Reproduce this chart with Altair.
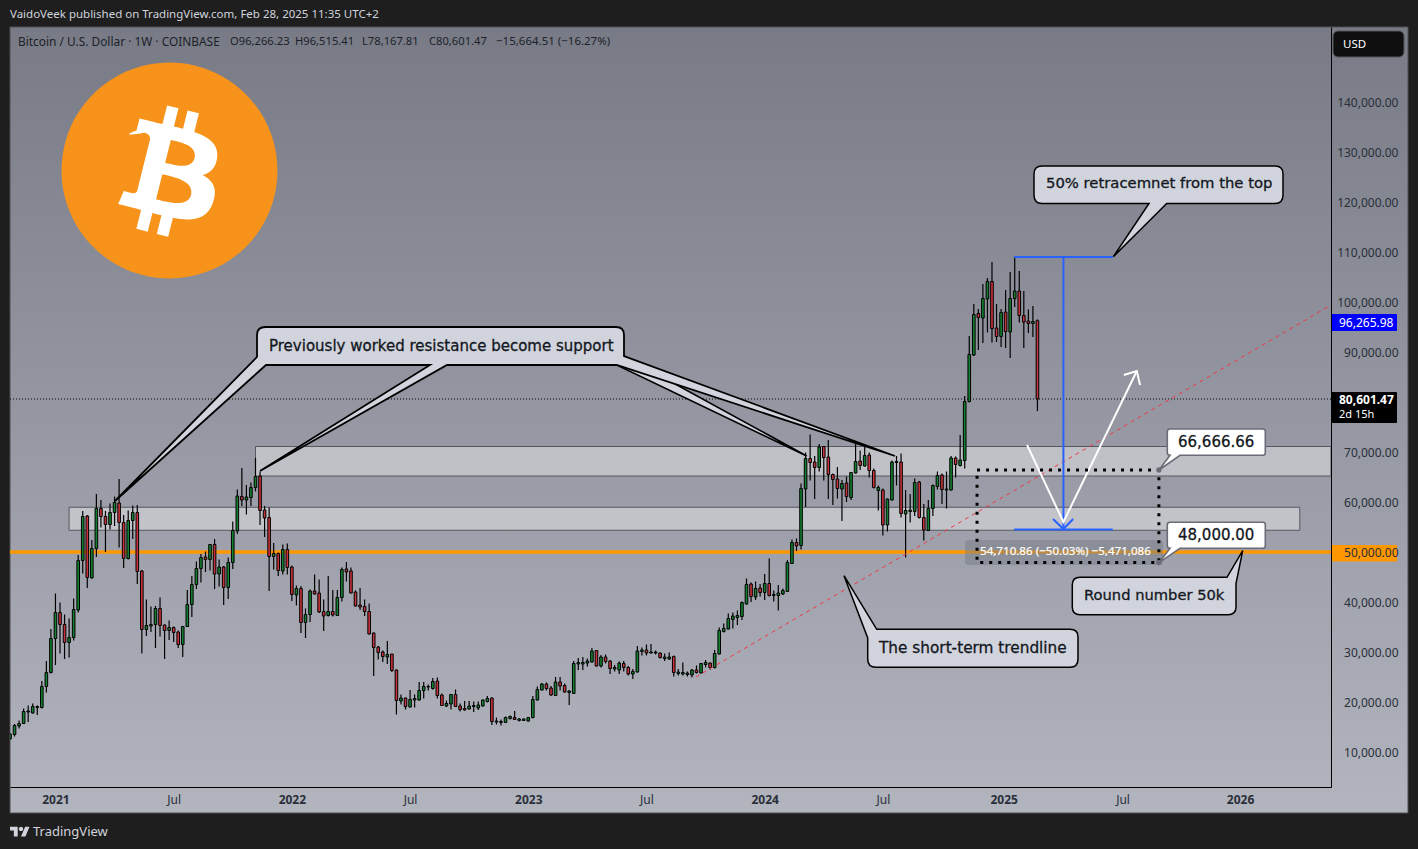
import altair as alt
import pandas as pd

# ---------- weekly candles, in thousands of USD ----------
opens = [12.6,13.5,15.2,15.7,18.0,17.8,19.1,18.9,23.1,25.9,
32.7,37.9,35.5,31.9,32.9,38.4,48.3,57.2,44.8,50.7,
58.7,57.1,55.5,57.9,59.8,55.9,48.7,56.3,57.9,46.2,
34.5,35.2,35.5,38.7,35.4,34.3,34.9,34.0,31.5,35.1,
39.5,43.5,46.7,49.0,48.5,51.5,45.6,47.0,42.9,47.9,
54.2,61.1,60.4,60.9,62.9,65.2,58.4,56.9,49.1,49.7,
46.2,50.5,47.0,41.4,42.7,35.9,37.5,42.2,41.8,38.1,
37.3,38.1,37.3,40.9,46.6,46.2,42.0,39.4,39.1,38.1,
33.8,31.0,30.0,29.0,29.6,26.4,
20.2,20.8,19.0,20.4,20.4,22.3,23.0,22.7,24.2,21.4,
19.2,19.6,21.5,19.2,18.7,18.6,19.1,18.8,19.2,20.1,
20.8,16.0,15.9,15.9,16.7,16.9,16.3,16.3,16.2,16.9,
20.4,22.4,23.6,22.8,21.3,24.0,23.3,21.9,21.7,27.6,
27.6,27.8,28.0,30.3,27.2,29.0,28.2,26.6,26.4,27.7,
26.9,25.6,26.0,30.1,30.4,29.8,29.8,29.8,28.7,28.6,
29.1,25.7,25.6,25.5,25.4,26.4,25.8,27.5,27.8,26.9,
29.6,34.1,34.6,36.5,36.9,37.1,39.6,43.6,41.0,42.8,
41.9,43.7,41.3,41.3,41.6,42.1,47.7,51.9,51.3,62.6,
68.7,68.0,66.9,71.1,69.0,65.5,64.6,62.6,63.8,60.9,
65.8,68.2,67.2,69.4,66.3,62.3,62.4,55.4,60.4,67.9,
68.0,57.6,58.1,58.1,64.0,56.9,54.3,58.7,63.1,65.4,
62.4,62.4,68.8,67.3,68.3,80.1,89.4,97.7,96.8,100.6,
104.1,94.8,93.1,98.0,94.0,100.7,102.2,97.3,96.2,95.7,96.27]

highs = [13.7,15.6,16.3,18.7,19.3,19.7,19.3,24.2,28.2,34.6,
41.7,39.9,37.5,36.7,40.7,49.4,58.2,57.4,52.4,61.6,
60.4,58.2,59.7,61.1,64.6,57.4,58.3,59.3,59.4,46.4,
40.5,39.1,39.2,40.9,35.5,36.3,35.1,34.3,35.2,42.4,
45.2,48.1,49.6,50.1,51.6,52.6,48.5,47.2,48.9,56.1,
62.5,66.8,63.4,63.9,68.8,66.1,59.2,58.9,51.8,49.9,
51.5,51.7,47.3,43.3,43.2,38.7,42.5,45.5,44.5,40.5,
45.2,42.4,42.4,46.9,48.0,46.9,42.3,42.8,40.5,39.7,
33.9,31.2,30.3,32.2,29.6,26.5,
21.5,20.9,22.4,21.5,24.0,24.0,23.5,24.8,24.9,21.7,
20.3,21.5,22.5,19.7,20.2,20.2,20.1,20.1,20.5,21.2,
20.9,16.9,16.5,17.1,17.3,18.2,16.8,16.7,16.9,21.2,
23.1,23.8,23.9,23.2,25.0,25.0,23.7,22.4,28.2,28.8,
29.0,28.7,30.8,30.4,29.4,29.5,28.4,27.4,28.1,28.2,
27.2,26.6,31.2,30.9,31.5,31.6,30.3,29.9,29.7,29.9,
29.3,26.6,27.9,26.1,26.6,27.3,27.7,28.4,27.9,30.4,
34.9,35.7,37.7,37.9,38.3,40.1,44.7,43.9,44.1,43.6,
45.6,48.7,42.3,43.4,42.7,48.4,52.5,52.7,63.7,69.9,
73.5,69.2,71.6,71.2,72.4,65.7,67.0,64.4,65.1,65.9,
71.6,70.3,71.5,69.9,66.7,63.3,62.7,60.7,68.3,69.2,
69.7,62.4,61.6,64.7,64.2,59.6,60.4,63.5,66.1,65.7,
66.1,69.2,69.1,73.4,81.2,93.2,99.6,98.6,103.6,104.8,
108.0,99.6,98.6,102.4,106.0,109.1,106.2,102.2,98.5,99.2,96.52]

lows = [12.6,13.1,14.7,15.6,16.0,17.7,17.4,18.7,21.9,25.7,
27.4,29.7,28.6,28.9,32.3,37.9,45.7,42.8,44.7,49.0,
54.9,50.0,54.5,55.2,50.9,46.8,48.5,52.6,43.6,29.7,
33.2,34.0,30.8,33.1,28.6,32.4,32.0,30.8,29.0,35.0,
37.0,42.6,43.9,46.0,46.3,42.6,43.1,39.4,40.6,46.6,
53.6,59.2,57.5,59.2,62.1,55.4,53.0,42.2,46.5,45.2,
45.5,45.5,40.2,39.3,33.8,32.8,36.0,41.5,37.8,34.2,
37.1,37.1,37.3,40.1,44.1,41.7,39.1,38.4,37.2,33.5,
25.2,28.5,28.0,27.6,26.0,17.5,
19.5,18.5,18.9,18.9,20.3,20.7,22.3,22.5,20.7,19.3,
19.0,18.5,19.0,18.1,18.3,18.5,18.0,18.4,19.1,19.9,
15.4,15.5,15.3,15.8,16.5,16.4,16.1,16.2,16.1,16.7,
20.3,22.3,22.3,21.2,21.2,22.3,21.9,19.4,21.6,26.4,
26.4,27.1,27.9,27.1,26.9,27.7,25.6,26.1,25.6,26.1,
25.3,24.6,25.9,29.3,29.3,29.7,29.5,28.7,28.2,28.4,
25.1,25.3,25.3,25.1,24.9,25.7,25.7,26.9,26.5,26.7,
29.5,33.9,34.5,34.7,35.4,36.4,39.5,40.0,40.4,41.1,
40.4,41.1,40.1,38.3,41.4,42.0,47.6,50.2,50.5,59.0,
64.3,60.6,66.1,64.3,60.6,59.4,60.7,56.2,60.0,60.4,
65.7,66.4,67.1,64.9,62.7,58.3,53.3,54.1,60.3,63.3,
56.9,48.9,55.9,57.2,56.7,52.3,54.2,57.2,62.5,59.6,
58.7,62.3,64.9,67.1,66.7,79.9,89.2,90.4,91.8,93.9,
91.9,92.0,91.0,90.8,88.8,99.0,95.9,90.8,93.8,93.0,78.17]

closes = [13.6,15.3,15.7,18.1,18.2,19.1,18.9,23.1,25.9,32.7,
37.9,35.5,31.9,32.9,38.5,48.3,57.1,44.9,50.7,58.7,
57.1,55.5,57.9,59.9,55.9,48.7,56.3,57.9,46.1,34.5,
35.3,35.5,38.7,35.3,34.3,34.9,33.9,31.5,35.1,39.5,
43.5,46.7,48.9,48.5,51.5,45.6,47.0,42.9,47.9,54.3,
61.2,60.4,61.0,62.9,65.1,58.3,56.8,49.1,49.7,46.3,
50.5,46.9,41.5,42.7,35.9,37.5,42.2,41.6,38.0,37.2,
38.1,37.4,40.9,46.5,46.0,41.8,39.2,39.0,38.1,33.6,
30.9,29.9,29.1,29.5,26.3,20.3,
20.8,19.1,20.5,20.7,22.3,23.1,23.1,24.1,21.3,19.3,
19.7,21.5,19.1,18.5,18.4,19.2,19.3,19.4,20.4,20.7,
16.1,16.2,16.1,16.9,17.1,16.5,16.6,16.6,16.9,20.5,
22.5,23.6,22.7,21.4,24.0,23.2,22.0,22.2,27.7,27.9,
27.9,28.2,30.2,27.2,29.0,28.1,26.7,26.9,27.8,26.9,
25.6,26.1,30.2,30.4,29.8,30.0,30.0,28.9,29.0,29.0,
25.9,26.0,25.9,25.8,26.4,25.9,27.7,27.9,26.9,29.7,
34.3,34.7,36.7,37.2,37.3,39.9,43.5,41.1,42.7,41.9,
43.7,41.3,41.5,41.8,42.3,47.9,51.9,51.2,62.7,68.7,
67.9,66.9,71.0,68.9,65.5,64.5,62.7,63.7,61.1,65.9,
68.1,67.3,69.3,66.3,62.9,62.9,55.4,60.6,68.0,68.1,
57.7,58.3,58.4,63.9,56.9,54.4,58.7,63.3,65.3,62.5,
62.6,68.8,67.5,68.4,80.1,89.5,97.5,96.9,100.7,104.1,
94.7,93.1,97.9,94.1,100.7,102.2,97.3,96.0,95.7,96.1,80.60]

first_week = "2020-10-26"

price_ticks = [10000,20000,30000,40000,50000,60000,70000,90000,100000,110000,120000,130000,140000]
time_ticks = [(2021,1,4),(2021,7,5),(2022,1,3),(2022,7,4),(2023,1,2),(2023,7,3),
              (2024,1,1),(2024,7,1),(2025,1,3),(2025,7,5),(2026,1,2)]

# drawing tools, as date / price
zones = pd.DataFrame({"d1":["2021-11-08","2021-01-25"],"d2":["2026-05-22","2026-04-04"],
                      "p1":[71100,58950],"p2":[65200,54350]})
measure_box = pd.DataFrame({"d1":["2024-11-23"],"d2":["2025-08-30"],"p1":[66400],"p2":[47900]})
measure_dots = pd.DataFrame({"d":["2025-08-30","2025-08-30"],"p":[66400,47900]})
trend_dates = ["2023-09-17","2026-05-22"]
trend_prices = [25000,99400]
blue_paths = [
    (["2025-01-19","2025-06-20"],[109000,109000]),
    (["2025-04-05","2025-04-05"],[109000,54700]),
    (["2025-01-19","2025-06-20"],[54500,54500]),
    (["2025-03-20","2025-04-05","2025-04-20"],[56600,54600,56600]),
]
white_paths = [
    (["2025-02-08","2025-04-05","2025-07-27"],[71400,56000,86200]),
    (["2025-07-07","2025-07-27","2025-08-01"],[85400,86200,83400]),
]
round_number = 50000
last_close = 80601.47

FONT = "Noto Sans"
CALL = "DejaVu Sans"

# ---------- scales ----------
xscale = alt.Scale(domain=[alt.DateTime(year=2020,month=10,date=26),alt.DateTime(year=2026,month=5,date=22)],padding=0)
yscale = alt.Scale(domain=[3000,155000])

xaxis = alt.Axis(values=[alt.DateTime(year=y,month=m,date=d) for y,m,d in time_ticks],
    labelExpr="month(datum.value)==0 ? timeFormat(datum.value,'%Y') : 'Jul'",
    tickSize=0,labelPadding=7,grid=False,domainColor="#000000",domainWidth=1,
    labelFont=FONT,labelFontSize=12,labelColor="#2a2e39",labelFlush=False,labelOverlap=False,
    labelFontWeight={"condition":{"test":"month(datum.value)==0","value":"bold"},"value":"normal"},
    zindex=1,title=None)
yaxis = alt.Axis(values=price_ticks,orient="right",format=",.2f",tickSize=0,labelPadding=67,labelAlign="right",
    grid=False,domainColor="#000000",domainWidth=1,labelFont=FONT,labelFontSize=12,labelColor="#2a2e39",
    zindex=1,title=None,labelOverlap=False,labelFlush=False)

def X(f): return alt.X(f+":T", scale=xscale, axis=xaxis, title=None)
def Y(f): return alt.Y(f+":Q", scale=yscale, axis=yaxis, title=None)
def X2(f): return alt.X2(f)
def Y2(f): return alt.Y2(f)

blank = alt.Data(values=[{"a":1}])

def rect(x0,y0,x1,y1,fill,r=0,stroke=None,sw=0,op=1):
    kw = dict(fill=fill,cornerRadius=r,opacity=op)
    if stroke: kw.update(stroke=stroke,strokeWidth=sw)
    return alt.Chart(blank).mark_rect(**kw).encode(
        x=alt.value(x0-10),x2=alt.value(x1-10),y=alt.value(y0-27),y2=alt.value(y1-27))

def txt(s,x,y,size=12,color="#131722",weight="normal",font=FONT,align="left",thick=0):
    kw = dict(align=align,baseline="middle",fontSize=size,color=color,fontWeight=weight,font=font)
    if thick: kw.update(stroke=color,strokeWidth=thick)
    return alt.Chart(alt.Data(values=[{"t":s}])).mark_text(**kw).encode(
        x=alt.value(x-10),y=alt.value(y-27),text="t:N")

def path_of(cmds):
    out=[]
    for c in cmds:
        if c[0]=="Z": out.append("Z"); continue
        vals=list(c[1:]); shifted=[]
        for i,v in enumerate(vals):
            shifted.append(round(v-(10 if i%2==0 else 27),2))
        out.append(c[0]+" ".join(str(s) for s in shifted))
    return " ".join(out)

def shape(cmds,fill,stroke=None,sw=1.5):
    kw=dict(shape=path_of(cmds),size=4,filled=True,fill=fill,opacity=1,clip=False)
    kw.update(stroke=stroke,strokeWidth=sw) if stroke else kw.update(strokeWidth=0)
    return alt.Chart(blank).mark_point(**kw).encode(x=alt.value(0),y=alt.value(0))

def poly_layer(paths,color,width,dash=None):
    rows=[]
    for g,(ds,ps) in enumerate(paths):
        for o,(d,p) in enumerate(zip(ds,ps)):
            rows.append({"d":d,"p":p,"g":g,"o":o})
    kw=dict(color=color,strokeWidth=width,clip=True)
    if dash: kw["strokeDash"]=dash
    return alt.Chart(pd.DataFrame(rows)).mark_line(**kw).encode(x=X("d"),y=Y("p"),detail="g:N",order="o:Q")

# ---------- layers ----------
panel = alt.Chart(blank).mark_rect(
    color=alt.LinearGradient(gradient="linear",
        stops=[alt.GradientStop(color="#787b86",offset=0),alt.GradientStop(color="#b2b5be",offset=1)],
        x1=0,x2=0,y1=0,y2=1),
    stroke="#4e4f53",strokeWidth=1
).encode(x=alt.value(0),x2=alt.value(1398),y=alt.value(0),y2=alt.value(786))

zone_layer = alt.Chart(zones).mark_rect(fill="#ffffff",fillOpacity=0.38,stroke="#55585f",strokeWidth=1,clip=True).encode(
    x=X("d1"),x2=X2("d2"),y=Y("p1"),y2=Y2("p2"))

orange = alt.Chart(alt.Data(values=[{"p":round_number}])).mark_rule(color="#ff9800",strokeWidth=3.5).encode(y=Y("p"))
dotted = alt.Chart(alt.Data(values=[{"p":last_close}])).mark_rule(color="#000000",strokeWidth=1,strokeDash=[1,2]).encode(y=Y("p"))

weeks = pd.date_range(first_week,periods=len(opens),freq="7D")
cd = pd.DataFrame({"d":weeks,"o":[v*1000 for v in opens],"h":[v*1000 for v in highs],
                   "l":[v*1000 for v in lows],"c":[v*1000 for v in closes]})
cd["dir"]=["up" if c>=o else "down" for o,c in zip(cd.o,cd.c)]

wicks = alt.Chart(cd).mark_rule(color="#000000",strokeWidth=1.2,clip=True).encode(
    x=X("d"),y=Y("l"),y2=Y2("h"))
bodies = alt.Chart(cd).mark_bar(size=2.6,stroke="#000000",strokeWidth=1,clip=True).encode(
    x=X("d"),y=Y("o"),y2=Y2("c"),
    color=alt.Color("dir:N",legend=None,scale=alt.Scale(domain=["up","down"],range=["#12802e","#c8323a"])))

trend = poly_layer([(trend_dates,trend_prices)],"#f23645",1,[4,4])
blue = poly_layer(blue_paths,"#2962ff",2)
white = poly_layer(white_paths,"#ffffff",2)

mbg = rect(965,540,1163,565,"#787b86",r=3,op=0.5)
mbox = alt.Chart(measure_box).mark_rect(fillOpacity=0,stroke="#000000",strokeWidth=3,strokeDash=[3,6],clip=True).encode(
    x=X("d1"),x2=X2("d2"),y=Y("p1"),y2=Y2("p2"))
mdots = alt.Chart(measure_dots).mark_circle(color="#6a6d78",size=28,opacity=1).encode(x=X("d"),y=Y("p"))

# callouts
t3 = shape([("M",624,356),("L",806.7,456),("L",616.7,365),("Z",)],"#d1d4dc","#000000",1.6)
callA = shape([("M",265.5,327),("L",616,327),("Q",624,327,624,335),("L",624,356),("L",895,456),("L",616.7,365),
    ("L",447,365),("L",260,471),("L",430,365),("L",266,365),("L",115,501),("L",257,357),("L",257,335),
    ("Q",257,327,265.5,327),("Z",)],"#d1d4dc","#000000",1.8)
callB = shape([("M",1042,166),("L",1275,166),("Q",1283,166,1283,174),("L",1283,195),("Q",1283,203.5,1275,203.5),
    ("L",1166.7,203.5),("L",1113.3,256.7),("L",1149,203.5),("L",1042,203.5),("Q",1034,203.5,1034,195),
    ("L",1034,174),("Q",1034,166,1042,166),("Z",)],"#d1d4dc","#000000",1.5)
callC = shape([("M",876.7,629.3),("L",1070,629.3),("Q",1078,629.3,1078,637),("L",1078,659),("Q",1078,667.3,1070,667.3),
    ("L",876,667.3),("Q",867.7,667.3,867.7,659),("L",867.7,638),("L",844,575.7),("Z",)],"#d1d4dc","#000000",1.5)
callD = shape([("M",1080,577.3),("L",1227,577.3),("L",1242.7,550.7),("L",1236,583.5),("L",1236,607),("Q",1236,614.7,1228,614.7),
    ("L",1080,614.7),("Q",1072.3,614.7,1072.3,607),("L",1072.3,585),("Q",1072.3,577.3,1080,577.3),("Z",)],"#d1d4dc","#000000",1.5)

def small_call(y0,y1,tip_y):
    return shape([("M",1170,y0),("L",1263,y0),("Q",1265.3,y0,1265.3,y0+2.5),("L",1265.3,y1-2.5),("Q",1265.3,y1,1263,y1),
        ("L",1180,y1),("L",1159,tip_y),("L",1170,y1),("Q",1167.3,y1,1167.3,y1-2.5),("L",1167.3,y0+2.5),
        ("Q",1167.3,y0,1170,y0),("Z",)],"#ffffff","#6a6d78",1.6)

# bitcoin logo (path in a 64 x 64 box)
LOGO_C = "M63.04 39.741c-4.274 17.143-21.638 27.575-38.783 23.301C7.12 58.768-3.313 41.404.962 24.262 5.234 7.117 22.597-3.317 39.737.957c17.144 4.274 27.576 21.64 23.302 38.784z"
LOGO_B = "M46.11 27.441c.636-4.258-2.606-6.547-7.039-8.074l1.438-5.768-3.512-.875-1.4 5.616c-.922-.23-1.87-.447-2.812-.662l1.41-5.653-3.509-.875-1.439 5.766c-.764-.174-1.514-.346-2.242-.527l.004-.018-4.842-1.209-.934 3.75s2.605.597 2.55.634c1.422.355 1.68 1.296 1.636 2.042l-1.638 6.571c.098.025.225.061.365.117l-.37-.092-2.297 9.205c-.174.432-.615 1.08-1.609.834.035.051-2.552-.637-2.552-.637l-1.743 4.02 4.57 1.139c.85.213 1.683.436 2.502.646l-1.453 5.835 3.507.875 1.44-5.772c.957.26 1.887.5 2.797.726l-1.434 5.745 3.511.875 1.453-5.823c5.987 1.133 10.49.676 12.383-4.739 1.527-4.36-.075-6.875-3.225-8.516 2.294-.531 4.022-2.04 4.483-5.157zM38.087 38.69c-1.086 4.36-8.426 2.004-10.807 1.412l1.928-7.729c2.38.594 10.011 1.77 8.88 6.317zm1.085-11.312c-.99 3.966-7.1 1.951-9.083 1.457l1.748-7.01c1.983.494 8.367 1.416 7.335 5.553z"
def logo(path,fill,px,py,scale):
    return alt.Chart(blank).mark_point(shape=path,size=(2*scale)**2,filled=True,fill=fill,strokeWidth=0,opacity=1).encode(
        x=alt.value(px-10),y=alt.value(py-27))

TV_MARK = "M14 22H7V11H0V4h14v18zM28 22h-8l7.5-18h8L28 22zM24 8a4 4 0 1 1-8 0 4 4 0 0 1 8 0z"

layers = [panel, zone_layer, orange, dotted, wicks, bodies, trend, blue, white, mbg, mbox, mdots,
    t3, callA, callB, callC, callD, small_call(429,455.3,470), small_call(522.3,548.3,562.7),
    logo(LOGO_C,"#f7931a",61.5,62.5,3.375), logo(LOGO_B,"#ffffff",67.7,69.3,3.24),
    logo(TV_MARK,"#d1d4dc",10,824.5,0.55),
    # price scale tags
    rect(1333,31,1404,57,"#0f0f0f",r=5,stroke="#55565a",sw=1),
    rect(1331,314,1397,331,"#0000ff",r=1),
    rect(1331,392,1397,423,"#000000",r=1),
    rect(1331,545,1397,561.5,"#ff9800",r=1),
    txt("USD",1343,44.5,11.5,"#ffffff"),
    txt("96,265.98",1339,322.5,12,"#ffffff"),
    txt("80,601.47",1339,399.5,12,"#ffffff","bold"),
    txt("2d 15h",1339,414.5,11,"#ffffff"),
    # header / footer
    txt("VaidoVeek published on TradingView.com, Feb 28, 2025 11:35 UTC+2",10,14.5,11.5,"#d1d4dc"),
    txt("Bitcoin / U.S. Dollar · 1W · COINBASE",18,42,11.9,"#1c1f28"),
    txt("O96,266.23",230,42,11.2,"#1c1f28"),
    txt("H96,515.41",295,42,11.2,"#1c1f28"),
    txt("L78,167.81",362,42,11.2,"#1c1f28"),
    txt("C80,601.47",429,42,11.2,"#1c1f28"),
    txt("−15,664.51 (−16.27%)",496,42,11.5,"#1c1f28"),
    txt("TradingView",33,831.5,13,"#d1d4dc"),
    # callout texts
    txt("Previously worked resistance become support",269,345.5,15,"#131722",500,CALL,thick=0.3),
    txt("50% retracemnet from the top",1046,184,14.8,"#131722",500,CALL,thick=0.3),
    txt("The short-term trendline",879,648,15.3,"#131722",500,CALL,thick=0.3),
    txt("Round number 50k",1084,596,14.7,"#131722",500,CALL,thick=0.3),
    txt("66,666.66",1178,442,15,"#131722",500,CALL,thick=0.3),
    txt("48,000.00",1178,535,15,"#131722",500,CALL,thick=0.3),
    txt("54,710.86 (−50.03%) −5,471,086",980,552,11.6,"#ffffff",thick=0.2),
]

chart = alt.layer(*layers).properties(
    width=1321,height=760,
    background="#1e1e1e",
    padding={"left":10,"top":27,"right":87,"bottom":62},
    autosize=alt.AutoSizeParams(type="none"),
).configure_view(stroke=None)

chart.save("out.html", embed_options={"renderer": "svg", "actions": False,
                                      "defaultStyle": "html,body{margin:0;background:#1e1e1e;overflow:hidden}"})
